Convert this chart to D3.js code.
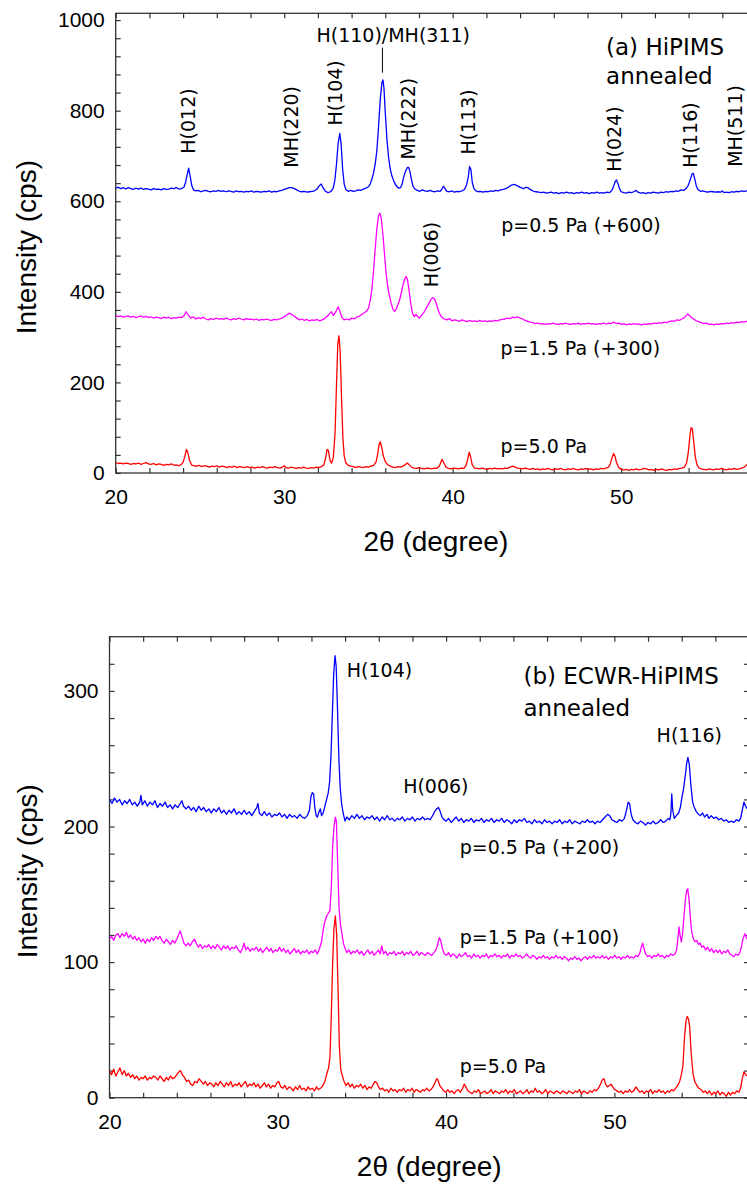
<!DOCTYPE html>
<html>
<head>
<meta charset="utf-8">
<script src="https://cdn.jsdelivr.net/npm/d3@7"></script>
<style>
body { margin: 0; background: #fff; }
svg { display: block; }
</style>
</head>
<body>
<svg id="chart" width="747" height="1185"></svg>
<script>
// (a) HiPIMS annealed, raw counts, offsets added when drawing
var a_p05 = [[20.0,29],[20.15,31],[20.3,28],[20.45,30],[20.6,27],[20.75,30],[20.9,28],[21.05,26],[21.2,29],[21.35,27],[21.5,29],[21.65,26],[21.8,28],[21.95,27],[22.1,25],[22.25,28],[22.4,26],[22.55,27],[22.7,25],[22.85,28],[23.0,26],[23.15,27],[23.3,29],[23.45,28],[23.6,30],[23.75,27],[23.9,28],[24.05,31],[24.15,42],[24.25,60],[24.33,73],[24.42,55],[24.52,34],[24.62,25],[24.75,23],[24.9,24],[25.05,21],[25.2,23],[25.35,24],[25.5,22],[25.65,21],[25.8,23],[25.95,22],[26.1,24],[26.25,22],[26.4,23],[26.55,21],[26.7,23],[26.85,22],[27.0,20],[27.15,23],[27.3,21],[27.45,22],[27.6,20],[27.75,22],[27.9,21],[28.05,23],[28.2,20],[28.35,22],[28.5,21],[28.65,20],[28.8,22],[28.95,21],[29.1,23],[29.25,20],[29.4,22],[29.55,21],[29.7,23],[29.85,24],[30.0,26],[30.15,28],[30.3,30],[30.45,30],[30.6,28],[30.75,25],[30.9,22],[31.05,21],[31.2,22],[31.35,20],[31.5,21],[31.65,22],[31.8,23],[31.95,27],[32.1,35],[32.2,38],[32.3,30],[32.45,22],[32.6,19],[32.75,21],[32.9,28],[33.0,45],[33.1,80],[33.2,128],[33.3,150],[33.38,125],[33.47,70],[33.56,38],[33.66,26],[33.8,22],[33.95,24],[34.1,22],[34.25,23],[34.4,25],[34.55,24],[34.7,27],[34.85,29],[35.0,32],[35.1,38],[35.2,48],[35.3,62],[35.4,82],[35.5,112],[35.6,165],[35.7,225],[35.8,262],[35.86,268],[35.92,250],[36.0,195],[36.1,135],[36.2,95],[36.3,70],[36.4,55],[36.5,45],[36.6,37],[36.7,32],[36.8,29],[36.9,30],[37.0,38],[37.1,55],[37.2,66],[37.3,74],[37.38,75],[37.46,66],[37.55,48],[37.65,33],[37.75,27],[37.9,24],[38.05,22],[38.2,25],[38.35,23],[38.5,22],[38.65,24],[38.8,22],[38.95,21],[39.1,23],[39.25,22],[39.35,26],[39.45,33],[39.55,28],[39.65,22],[39.8,21],[39.95,23],[40.1,20],[40.25,22],[40.4,21],[40.55,23],[40.7,26],[40.82,36],[40.92,52],[41.0,77],[41.08,70],[41.16,42],[41.26,28],[41.38,23],[41.5,21],[41.65,22],[41.8,20],[41.95,22],[42.1,21],[42.25,23],[42.4,22],[42.55,24],[42.7,23],[42.85,25],[43.0,26],[43.15,28],[43.3,31],[43.45,35],[43.6,37],[43.75,36],[43.9,33],[44.05,30],[44.2,28],[44.35,31],[44.5,29],[44.65,25],[44.8,22],[44.95,21],[45.1,20],[45.25,19],[45.4,20],[45.55,18],[45.7,19],[45.85,20],[46.0,18],[46.15,19],[46.3,17],[46.45,19],[46.6,18],[46.75,20],[46.9,18],[47.05,19],[47.2,17],[47.35,19],[47.5,18],[47.65,20],[47.8,18],[47.95,19],[48.1,17],[48.25,19],[48.4,18],[48.55,20],[48.7,18],[48.85,19],[49.0,18],[49.15,20],[49.3,19],[49.45,24],[49.55,33],[49.65,44],[49.72,47],[49.8,40],[49.9,28],[50.0,21],[50.15,19],[50.3,18],[50.45,20],[50.6,19],[50.75,21],[50.88,24],[51.0,20],[51.15,18],[51.3,19],[51.45,17],[51.6,19],[51.75,18],[51.9,20],[52.05,19],[52.2,18],[52.35,20],[52.5,19],[52.65,21],[52.8,20],[52.95,22],[53.1,21],[53.25,23],[53.4,22],[53.55,25],[53.7,24],[53.85,28],[53.98,35],[54.1,48],[54.2,60],[54.27,62],[54.35,52],[54.45,35],[54.55,26],[54.7,22],[54.85,23],[55.0,21],[55.15,20],[55.3,22],[55.45,21],[55.6,20],[55.75,21],[55.9,20],[56.0,23],[56.1,19],[56.25,20],[56.4,19],[56.55,21],[56.7,20],[56.85,22],[57.0,21],[57.15,23],[57.3,22],[57.45,23],[57.6,22],[57.75,24],[57.9,23],[58.0,24]]

var a_p15 = [[20.0,48],[20.15,45],[20.3,47],[20.45,44],[20.6,46],[20.75,47],[20.9,44],[21.05,46],[21.2,43],[21.35,45],[21.5,47],[21.65,44],[21.8,46],[21.95,43],[22.1,45],[22.25,42],[22.4,44],[22.55,43],[22.7,41],[22.85,44],[23.0,42],[23.15,44],[23.3,41],[23.45,43],[23.6,42],[23.75,44],[23.9,43],[24.05,47],[24.18,56],[24.3,49],[24.45,42],[24.6,45],[24.75,40],[24.9,43],[25.05,41],[25.2,44],[25.35,40],[25.5,38],[25.65,41],[25.8,39],[25.95,42],[26.1,40],[26.25,41],[26.4,39],[26.55,42],[26.7,40],[26.85,38],[27.0,41],[27.15,39],[27.3,42],[27.45,40],[27.6,38],[27.75,41],[27.9,39],[28.05,40],[28.2,38],[28.35,40],[28.5,37],[28.65,39],[28.8,38],[28.95,40],[29.1,38],[29.25,37],[29.4,39],[29.55,38],[29.7,40],[29.85,42],[30.0,45],[30.15,49],[30.3,53],[30.45,50],[30.6,46],[30.75,42],[30.9,38],[31.05,40],[31.2,37],[31.35,39],[31.5,36],[31.65,38],[31.8,37],[31.95,39],[32.1,36],[32.25,38],[32.4,41],[32.55,46],[32.7,52],[32.8,56],[32.92,48],[33.05,55],[33.2,67],[33.3,58],[33.42,44],[33.55,38],[33.7,40],[33.85,38],[34.0,42],[34.15,40],[34.3,44],[34.45,46],[34.6,50],[34.75,54],[34.9,58],[35.0,64],[35.1,80],[35.2,105],[35.3,145],[35.4,195],[35.5,240],[35.6,268],[35.68,274],[35.76,262],[35.85,230],[35.95,185],[36.05,140],[36.15,110],[36.25,90],[36.35,75],[36.45,62],[36.55,57],[36.65,62],[36.75,72],[36.85,82],[36.95,98],[37.05,115],[37.15,128],[37.24,134],[37.32,126],[37.42,100],[37.52,72],[37.62,52],[37.72,45],[37.82,50],[37.92,45],[38.02,42],[38.15,48],[38.3,55],[38.45,65],[38.6,75],[38.72,84],[38.82,87],[38.92,84],[39.02,75],[39.12,62],[39.22,52],[39.35,44],[39.5,40],[39.65,38],[39.8,41],[39.95,36],[40.1,38],[40.25,37],[40.4,35],[40.55,38],[40.7,36],[40.85,34],[41.0,37],[41.15,35],[41.3,36],[41.45,34],[41.6,37],[41.75,35],[41.9,36],[42.05,34],[42.2,36],[42.35,35],[42.5,37],[42.65,36],[42.8,38],[42.95,39],[43.1,40],[43.25,42],[43.4,41],[43.55,44],[43.7,43],[43.85,45],[44.0,42],[44.15,40],[44.3,37],[44.45,35],[44.6,33],[44.75,32],[44.9,30],[45.05,31],[45.2,29],[45.35,30],[45.5,28],[45.65,30],[45.8,29],[45.95,31],[46.1,29],[46.25,28],[46.4,30],[46.55,29],[46.7,31],[46.85,29],[47.0,28],[47.15,30],[47.3,29],[47.45,31],[47.6,28],[47.75,30],[47.9,29],[48.05,31],[48.2,29],[48.35,30],[48.5,28],[48.65,30],[48.8,29],[48.95,31],[49.1,29],[49.25,31],[49.4,30],[49.55,33],[49.7,30],[49.85,31],[50.0,28],[50.15,30],[50.3,27],[50.45,29],[50.6,28],[50.75,30],[50.9,28],[51.05,29],[51.2,27],[51.35,29],[51.5,28],[51.65,30],[51.8,29],[51.95,31],[52.1,30],[52.25,32],[52.4,31],[52.55,33],[52.7,32],[52.85,34],[53.0,36],[53.15,35],[53.3,38],[53.45,37],[53.6,40],[53.75,43],[53.85,47],[53.95,51],[54.05,48],[54.15,44],[54.3,40],[54.45,36],[54.6,34],[54.75,32],[54.9,30],[55.05,31],[55.2,28],[55.35,29],[55.5,27],[55.65,29],[55.8,28],[55.95,30],[56.1,29],[56.25,31],[56.4,30],[56.55,32],[56.7,31],[56.85,33],[57.0,32],[57.15,34],[57.3,33],[57.45,35],[57.6,37],[57.75,35],[57.9,36],[58.0,35]]

var a_p50 = [[20.0,23],[20.15,21],[20.3,22],[20.45,20],[20.6,22],[20.75,21],[20.9,19],[21.05,21],[21.2,20],[21.35,22],[21.5,19],[21.65,21],[21.8,23],[21.95,20],[22.1,19],[22.25,21],[22.4,18],[22.55,20],[22.7,19],[22.85,17],[23.0,19],[23.15,18],[23.3,20],[23.45,17],[23.6,18],[23.75,16],[23.9,19],[24.0,24],[24.1,36],[24.2,52],[24.28,45],[24.38,28],[24.5,18],[24.65,16],[24.8,15],[24.95,17],[25.1,14],[25.25,16],[25.4,15],[25.55,13],[25.7,15],[25.85,14],[26.0,16],[26.15,13],[26.3,15],[26.45,14],[26.6,12],[26.75,14],[26.9,13],[27.05,15],[27.2,12],[27.35,14],[27.5,13],[27.65,12],[27.8,14],[27.95,12],[28.1,13],[28.25,11],[28.4,13],[28.55,12],[28.7,14],[28.85,12],[29.0,11],[29.15,13],[29.3,12],[29.45,14],[29.6,12],[29.75,11],[29.9,13],[30.0,16],[30.1,12],[30.25,11],[30.4,13],[30.55,12],[30.7,10],[30.85,12],[31.0,11],[31.15,13],[31.3,11],[31.45,10],[31.6,12],[31.75,11],[31.9,13],[32.05,12],[32.2,14],[32.35,18],[32.45,32],[32.55,52],[32.62,50],[32.72,28],[32.82,22],[32.92,35],[33.02,90],[33.1,190],[33.18,285],[33.25,303],[33.32,270],[33.4,170],[33.48,80],[33.56,38],[33.66,22],[33.8,17],[33.95,15],[34.1,14],[34.25,12],[34.4,14],[34.55,13],[34.7,12],[34.85,14],[35.0,13],[35.15,15],[35.3,17],[35.45,24],[35.55,42],[35.63,62],[35.7,69],[35.78,58],[35.88,38],[36.0,25],[36.15,18],[36.3,15],[36.45,13],[36.6,12],[36.75,14],[36.9,13],[37.05,15],[37.2,19],[37.3,22],[37.42,18],[37.55,13],[37.7,11],[37.85,10],[38.0,12],[38.15,10],[38.3,9],[38.45,11],[38.6,10],[38.75,9],[38.9,11],[39.05,10],[39.2,15],[39.3,24],[39.38,30],[39.48,22],[39.6,13],[39.75,10],[39.9,9],[40.05,11],[40.2,10],[40.35,9],[40.5,11],[40.65,10],[40.8,17],[40.9,32],[40.98,46],[41.06,36],[41.16,18],[41.3,11],[41.45,10],[41.6,9],[41.75,11],[41.9,9],[42.05,8],[42.2,10],[42.35,9],[42.5,11],[42.65,9],[42.8,10],[42.95,9],[43.1,11],[43.25,10],[43.4,13],[43.55,15],[43.7,13],[43.85,11],[44.0,10],[44.15,9],[44.3,11],[44.45,9],[44.6,8],[44.75,10],[44.9,8],[45.05,9],[45.2,7],[45.35,9],[45.5,8],[45.65,10],[45.8,8],[45.95,7],[46.1,9],[46.25,8],[46.4,10],[46.55,8],[46.7,7],[46.85,9],[47.0,8],[47.15,10],[47.3,8],[47.45,7],[47.6,9],[47.75,8],[47.9,10],[48.05,8],[48.2,9],[48.35,7],[48.5,9],[48.65,8],[48.8,10],[48.95,9],[49.1,11],[49.25,13],[49.35,20],[49.45,33],[49.55,43],[49.63,37],[49.73,22],[49.85,12],[50.0,8],[50.15,7],[50.3,8],[50.45,6],[50.6,8],[50.75,7],[50.9,9],[51.05,7],[51.2,8],[51.35,10],[51.5,9],[51.65,7],[51.8,8],[51.95,6],[52.1,8],[52.25,7],[52.4,9],[52.55,7],[52.7,6],[52.85,8],[53.0,7],[53.15,9],[53.3,8],[53.45,10],[53.6,11],[53.75,13],[53.88,22],[53.98,45],[54.07,80],[54.15,100],[54.22,98],[54.3,70],[54.4,35],[54.5,18],[54.62,11],[54.75,9],[54.9,8],[55.05,7],[55.2,9],[55.35,8],[55.5,7],[55.65,9],[55.8,8],[55.95,10],[56.1,8],[56.25,7],[56.4,9],[56.55,8],[56.7,10],[56.85,8],[57.0,9],[57.15,11],[57.3,13],[57.45,18],[57.6,20],[57.75,17],[57.9,14],[58.0,13]]

// (b) ECWR-HiPIMS annealed
var b_p05 = [[20.0,20],[20.15,17],[20.3,21],[20.45,18],[20.6,20],[20.75,16],[20.9,19],[21.05,17],[21.2,20],[21.35,16],[21.5,18],[21.65,15],[21.8,18],[21.87,23],[21.95,16],[22.1,19],[22.25,15],[22.4,18],[22.55,16],[22.7,19],[22.85,14],[23.0,17],[23.15,15],[23.3,18],[23.45,14],[23.6,16],[23.75,13],[23.9,16],[24.05,14],[24.2,17],[24.3,19],[24.4,15],[24.55,13],[24.7,15],[24.85,12],[25.0,14],[25.15,11],[25.3,15],[25.45,12],[25.6,14],[25.75,11],[25.9,13],[26.05,10],[26.2,13],[26.35,11],[26.5,14],[26.65,10],[26.8,12],[26.95,9],[27.1,12],[27.25,10],[27.4,13],[27.55,9],[27.7,11],[27.85,9],[28.0,12],[28.15,9],[28.3,11],[28.45,8],[28.6,11],[28.75,14],[28.82,17],[28.9,10],[29.05,8],[29.2,11],[29.35,8],[29.5,10],[29.65,7],[29.8,9],[29.95,8],[30.1,10],[30.25,7],[30.4,9],[30.55,6],[30.7,9],[30.85,7],[31.0,8],[31.15,6],[31.3,9],[31.45,7],[31.6,6],[31.75,8],[31.88,12],[31.97,22],[32.05,25],[32.13,24],[32.2,14],[32.28,8],[32.36,7],[32.45,11],[32.53,13],[32.6,8],[32.7,10],[32.8,15],[32.9,20],[33.0,25],[33.08,33],[33.16,52],[33.24,82],[33.32,112],[33.4,126],[33.47,118],[33.55,86],[33.63,50],[33.71,28],[33.8,16],[33.9,9],[34.0,4],[34.1,7],[34.25,5],[34.4,8],[34.55,6],[34.7,9],[34.85,6],[35.0,8],[35.15,5],[35.3,7],[35.45,6],[35.6,8],[35.75,5],[35.9,7],[36.05,4],[36.2,7],[36.35,5],[36.5,8],[36.65,5],[36.8,6],[36.95,4],[37.1,6],[37.25,5],[37.4,7],[37.55,4],[37.7,6],[37.85,5],[38.0,7],[38.15,4],[38.3,6],[38.45,5],[38.6,7],[38.75,5],[38.9,6],[39.05,5],[39.2,8],[39.32,11],[39.44,13],[39.55,14],[39.65,11],[39.76,7],[39.88,5],[40.0,4],[40.15,6],[40.3,3],[40.45,5],[40.6,7],[40.75,4],[40.9,6],[41.05,3],[41.2,5],[41.35,4],[41.5,6],[41.65,3],[41.8,5],[41.95,4],[42.1,6],[42.25,3],[42.4,5],[42.55,4],[42.7,6],[42.85,3],[43.0,5],[43.15,4],[43.3,6],[43.45,3],[43.6,5],[43.75,4],[43.9,2],[44.05,5],[44.2,3],[44.35,5],[44.5,4],[44.65,6],[44.8,3],[44.95,4],[45.1,2],[45.25,5],[45.4,3],[45.55,4],[45.7,2],[45.85,5],[46.0,3],[46.15,4],[46.3,2],[46.45,4],[46.6,3],[46.75,5],[46.9,2],[47.05,4],[47.2,3],[47.35,5],[47.5,2],[47.65,4],[47.8,3],[47.95,2],[48.1,4],[48.25,3],[48.4,5],[48.55,3],[48.7,4],[48.85,2],[49.0,4],[49.15,3],[49.3,5],[49.45,7],[49.6,9],[49.72,8],[49.85,5],[50.0,4],[50.15,3],[50.3,5],[50.45,4],[50.6,6],[50.72,12],[50.82,18],[50.9,17],[51.0,9],[51.1,5],[51.25,3],[51.4,2],[51.55,4],[51.7,3],[51.85,1],[52.0,3],[52.15,2],[52.3,4],[52.45,2],[52.6,3],[52.75,5],[52.9,3],[53.05,4],[53.2,6],[53.3,5],[53.36,10],[53.41,24],[53.47,12],[53.56,6],[53.68,8],[53.82,10],[53.92,14],[54.02,22],[54.1,27],[54.2,36],[54.3,47],[54.37,51],[54.45,46],[54.55,30],[54.65,18],[54.75,14],[54.87,11],[55.0,9],[55.12,8],[55.24,10],[55.36,7],[55.5,9],[55.62,6],[55.76,8],[55.9,6],[56.05,7],[56.2,5],[56.35,6],[56.5,4],[56.65,5],[56.8,3],[56.95,4],[57.1,3],[57.25,5],[57.4,4],[57.5,6],[57.6,12],[57.7,18],[57.8,15],[57.9,13],[58.0,14]]

var b_p15 = [[20.0,17],[20.12,19],[20.25,16],[20.38,20],[20.5,21],[20.62,18],[20.75,21],[20.88,19],[21.0,22],[21.12,18],[21.25,20],[21.38,17],[21.5,19],[21.62,16],[21.75,18],[21.88,15],[22.0,17],[22.12,14],[22.25,17],[22.38,15],[22.5,18],[22.62,16],[22.75,19],[22.88,17],[23.0,19],[23.12,16],[23.25,14],[23.38,17],[23.5,15],[23.62,13],[23.75,16],[23.88,14],[24.0,17],[24.1,20],[24.2,23],[24.3,19],[24.42,14],[24.55,12],[24.68,14],[24.8,12],[24.92,15],[25.05,17],[25.15,14],[25.28,11],[25.4,13],[25.52,10],[25.65,12],[25.78,11],[25.9,13],[26.02,10],[26.15,12],[26.28,10],[26.4,13],[26.52,11],[26.65,9],[26.78,12],[26.9,10],[27.02,12],[27.15,9],[27.28,11],[27.4,10],[27.52,12],[27.65,9],[27.78,7],[27.9,10],[28.0,14],[28.1,9],[28.22,11],[28.35,8],[28.48,10],[28.6,9],[28.72,11],[28.85,8],[28.98,10],[29.1,7],[29.22,9],[29.35,11],[29.48,8],[29.6,10],[29.72,7],[29.85,9],[29.98,8],[30.1,11],[30.22,8],[30.35,10],[30.48,7],[30.6,9],[30.72,6],[30.85,8],[30.98,10],[31.1,7],[31.22,9],[31.35,6],[31.48,8],[31.6,7],[31.72,9],[31.85,6],[31.98,8],[32.1,7],[32.22,9],[32.35,6],[32.48,10],[32.6,15],[32.7,24],[32.8,30],[32.9,34],[33.0,36],[33.1,38],[33.18,55],[33.26,85],[33.34,100],[33.42,107],[33.48,104],[33.56,72],[33.64,40],[33.72,28],[33.8,22],[33.9,14],[34.0,10],[34.1,7],[34.22,9],[34.35,6],[34.48,8],[34.6,7],[34.72,9],[34.85,6],[34.98,8],[35.1,5],[35.22,7],[35.35,9],[35.48,6],[35.6,8],[35.72,5],[35.85,7],[35.98,9],[36.08,6],[36.18,12],[36.28,6],[36.4,8],[36.52,5],[36.65,7],[36.78,6],[36.9,8],[37.02,5],[37.15,7],[37.28,6],[37.4,8],[37.52,5],[37.65,7],[37.78,6],[37.9,8],[38.02,5],[38.15,6],[38.28,8],[38.4,5],[38.52,7],[38.65,6],[38.78,5],[38.9,7],[39.02,6],[39.15,5],[39.28,7],[39.4,9],[39.5,13],[39.6,18],[39.68,16],[39.78,10],[39.9,6],[40.02,5],[40.15,7],[40.28,4],[40.4,6],[40.52,5],[40.65,3],[40.78,6],[40.9,4],[41.02,5],[41.15,7],[41.28,4],[41.4,5],[41.52,3],[41.65,6],[41.78,4],[41.9,5],[42.02,3],[42.15,5],[42.28,4],[42.4,6],[42.52,3],[42.65,5],[42.78,4],[42.9,6],[43.02,4],[43.15,5],[43.28,3],[43.4,5],[43.52,4],[43.65,6],[43.78,3],[43.9,5],[44.02,4],[44.15,6],[44.28,4],[44.4,5],[44.52,3],[44.65,4],[44.78,6],[44.9,4],[45.02,3],[45.15,5],[45.28,4],[45.4,2],[45.52,4],[45.65,3],[45.78,5],[45.9,3],[46.02,4],[46.15,2],[46.28,4],[46.4,3],[46.52,5],[46.65,3],[46.78,4],[46.9,2],[47.02,4],[47.15,3],[47.28,1],[47.4,3],[47.52,2],[47.65,4],[47.78,2],[47.9,3],[48.02,1],[48.15,3],[48.28,4],[48.4,2],[48.52,4],[48.65,3],[48.78,5],[48.9,3],[49.02,4],[49.15,3],[49.28,5],[49.4,3],[49.52,4],[49.65,2],[49.78,4],[49.9,3],[50.02,5],[50.15,3],[50.28,4],[50.4,2],[50.52,4],[50.65,3],[50.78,5],[50.9,3],[51.02,4],[51.15,3],[51.28,5],[51.4,4],[51.52,7],[51.6,11],[51.68,14],[51.76,10],[51.86,6],[51.98,4],[52.1,5],[52.22,3],[52.35,5],[52.48,4],[52.6,6],[52.72,4],[52.85,5],[52.98,3],[53.1,5],[53.22,4],[53.35,6],[53.48,5],[53.6,6],[53.7,9],[53.78,18],[53.84,26],[53.9,20],[53.98,15],[54.06,22],[54.14,34],[54.22,46],[54.3,53],[54.36,54],[54.44,46],[54.52,32],[54.6,22],[54.7,17],[54.8,15],[54.9,16],[55.0,13],[55.1,14],[55.2,11],[55.3,12],[55.42,9],[55.54,11],[55.66,8],[55.78,10],[55.9,7],[56.02,9],[56.14,7],[56.26,9],[56.38,6],[56.5,8],[56.62,7],[56.74,9],[56.86,6],[56.98,5],[57.1,4],[57.22,6],[57.34,5],[57.46,7],[57.56,12],[57.66,18],[57.76,21],[57.88,17],[58.0,19]]

var b_p50 = [[20.0,20],[20.12,17],[20.25,21],[20.38,16],[20.5,19],[20.62,22],[20.75,17],[20.88,20],[21.0,16],[21.12,18],[21.25,15],[21.38,17],[21.5,14],[21.62,16],[21.75,13],[21.88,15],[22.0,14],[22.12,16],[22.25,13],[22.38,15],[22.5,14],[22.62,16],[22.75,15],[22.88,13],[23.0,16],[23.12,14],[23.25,12],[23.38,15],[23.5,13],[23.62,16],[23.75,14],[23.88,15],[24.0,17],[24.12,19],[24.22,20],[24.32,17],[24.45,15],[24.58,12],[24.7,13],[24.82,10],[24.95,9],[25.08,12],[25.2,11],[25.32,14],[25.45,12],[25.58,10],[25.7,12],[25.82,9],[25.95,11],[26.08,10],[26.2,8],[26.32,11],[26.45,9],[26.58,12],[26.7,10],[26.82,8],[26.95,11],[27.08,9],[27.2,12],[27.32,8],[27.45,10],[27.58,9],[27.7,11],[27.82,8],[27.95,10],[28.08,12],[28.2,8],[28.32,10],[28.45,9],[28.58,11],[28.7,8],[28.82,10],[28.95,7],[29.08,9],[29.2,11],[29.32,8],[29.45,10],[29.58,7],[29.7,9],[29.82,8],[29.95,11],[30.05,12],[30.18,8],[30.3,7],[30.42,9],[30.55,6],[30.68,8],[30.8,7],[30.92,5],[31.05,8],[31.18,6],[31.3,9],[31.42,6],[31.55,7],[31.68,5],[31.8,8],[31.92,6],[32.05,7],[32.18,5],[32.3,8],[32.42,6],[32.55,7],[32.68,9],[32.8,12],[32.92,18],[33.02,22],[33.1,30],[33.18,60],[33.26,100],[33.34,125],[33.42,134],[33.5,120],[33.58,80],[33.66,38],[33.74,21],[33.84,16],[33.94,12],[34.05,9],[34.18,11],[34.3,8],[34.42,10],[34.55,7],[34.68,9],[34.8,8],[34.92,10],[35.05,7],[35.18,9],[35.3,6],[35.42,8],[35.55,7],[35.68,10],[35.78,12],[35.88,11],[35.98,8],[36.1,6],[36.22,7],[36.35,5],[36.48,6],[36.6,4],[36.72,7],[36.85,5],[36.98,6],[37.1,4],[37.22,6],[37.35,5],[37.48,7],[37.6,4],[37.72,6],[37.85,5],[37.98,7],[38.1,4],[38.22,6],[38.35,5],[38.48,4],[38.6,6],[38.72,5],[38.85,7],[38.98,5],[39.1,6],[39.22,8],[39.34,11],[39.44,14],[39.52,13],[39.62,9],[39.74,7],[39.86,5],[39.98,4],[40.1,6],[40.22,4],[40.35,5],[40.48,3],[40.6,5],[40.72,6],[40.85,4],[40.98,7],[41.08,10],[41.18,8],[41.3,5],[41.42,4],[41.55,3],[41.68,5],[41.8,4],[41.92,6],[42.05,3],[42.18,4],[42.3,5],[42.42,3],[42.55,4],[42.68,6],[42.8,3],[42.92,5],[43.05,4],[43.18,3],[43.3,5],[43.42,4],[43.55,6],[43.68,3],[43.8,5],[43.92,4],[44.05,6],[44.18,3],[44.3,4],[44.42,5],[44.55,3],[44.68,4],[44.8,6],[44.92,3],[45.05,5],[45.18,4],[45.3,7],[45.42,4],[45.55,5],[45.68,3],[45.8,4],[45.92,6],[46.05,3],[46.18,5],[46.3,4],[46.42,3],[46.55,5],[46.68,4],[46.8,3],[46.92,5],[47.05,4],[47.18,3],[47.3,5],[47.42,4],[47.55,3],[47.68,5],[47.8,4],[47.92,6],[48.05,3],[48.18,5],[48.3,4],[48.42,3],[48.55,5],[48.68,4],[48.8,6],[48.92,5],[49.05,7],[49.18,10],[49.28,13],[49.38,14],[49.48,10],[49.58,8],[49.7,9],[49.8,10],[49.9,8],[50.02,6],[50.15,5],[50.28,4],[50.4,5],[50.52,3],[50.65,5],[50.78,4],[50.9,6],[51.02,4],[51.15,5],[51.28,8],[51.4,6],[51.52,4],[51.65,5],[51.78,3],[51.9,5],[52.02,4],[52.15,6],[52.28,3],[52.4,5],[52.52,4],[52.65,6],[52.78,4],[52.9,5],[53.02,3],[53.15,5],[53.28,4],[53.4,6],[53.52,5],[53.64,7],[53.76,9],[53.88,12],[53.98,17],[54.07,23],[54.17,45],[54.26,57],[54.33,60],[54.4,58],[54.47,53],[54.57,32],[54.67,18],[54.77,12],[54.9,9],[55.02,7],[55.15,6],[55.28,4],[55.4,5],[55.52,3],[55.65,5],[55.78,2],[55.9,4],[56.02,3],[56.15,5],[56.28,2],[56.4,4],[56.52,3],[56.65,1],[56.78,4],[56.9,2],[57.02,4],[57.15,3],[57.28,5],[57.4,4],[57.5,7],[57.6,14],[57.7,19],[57.8,17],[57.9,16],[58.0,18]]

var colors = ["#0000ff", "#ff00ff", "#ff0000"]
var a_offsets = [600, 300, 0]
var b_offsets = [200, 100, 0]

// text labels, placed in data units (2theta, cps)
var a_labels = [
    {t: "H(012)", x: 24.40, y: 705, rot: true},
    {t: "MH(220)", x: 30.54, y: 674, rot: true},
    {t: "H(104)", x: 33.12, y: 767, rot: true},
    {t: "MH(222)", x: 37.45, y: 692, rot: true},
    {t: "H(113)", x: 41.00, y: 703, rot: true},
    {t: "H(024)", x: 49.71, y: 665, rot: true},
    {t: "H(116)", x: 54.22, y: 674, rot: true},
    {t: "MH(511)", x: 56.89, y: 676, rot: true},
    {t: "H(006)", x: 38.81, y: 410, rot: true},
    {t: "H(110)/MH(311)", x: 36.47, y: 952, mid: true},
    {t: "(a) HiPIMS", x: 49.10, y: 924, big: true},
    {t: "annealed", x: 49.10, y: 860, big: true},
    {t: "p=0.5 Pa (+600)", x: 42.88, y: 532},
    {t: "p=1.5 Pa (+300)", x: 42.84, y: 261},
    {t: "p=5.0 Pa", x: 42.84, y: 44}
]
var a_marks = [[35.83, 939, 884]]

var b_labels = [
    {t: "H(104)", x: 34.10, y: 310},
    {t: "(b) ECWR-HiPIMS", x: 44.60, y: 305, big: true},
    {t: "annealed", x: 44.60, y: 281.5, big: true},
    {t: "H(116)", x: 52.51, y: 262},
    {t: "H(006)", x: 37.45, y: 225},
    {t: "p=0.5 Pa (+200)", x: 40.81, y: 180},
    {t: "p=1.5 Pa (+100)", x: 40.81, y: 113},
    {t: "p=5.0 Pa", x: 40.81, y: 18}
]

var svg = d3.select("#chart")

function drawPanel(cfg, series, offsets, labels, marks) {
    var x = d3.scaleLinear().domain([20, 58]).range([cfg.left, cfg.right])
    var y = d3.scaleLinear().domain([0, cfg.ymax]).range([cfg.bottom, cfg.top])
    var g = svg.append("g")

    g.append("clipPath").attr("id", cfg.id + "-clip")
        .append("rect")
        .attr("x", cfg.left).attr("y", cfg.top)
        .attr("width", cfg.right - cfg.left).attr("height", cfg.bottom - cfg.top)

    var xticks = d3.range(20, 58.01, 2)
    var yticks = d3.range(0, cfg.ymax, cfg.minor)

    var axisStyle = function(sel) {
        sel.select(".domain").remove()
        sel.selectAll(".tick line").attr("stroke", "#333").attr("stroke-width", 1.2)
        sel.selectAll(".tick text")
            .attr("fill", "#000")
            .style("font-family", "'Liberation Sans', Arial, sans-serif")
            .style("font-size", "21px")
    }

    g.append("g").attr("transform", "translate(0," + cfg.bottom + ")")
        .call(d3.axisBottom(x).tickValues(xticks).tickSize(-5).tickPadding(16)
            .tickFormat(function(d) { return d % 10 == 0 ? d : "" }))
        .call(axisStyle)
    g.append("g").attr("transform", "translate(0," + cfg.top + ")")
        .call(d3.axisTop(x).tickValues(xticks).tickSize(-5).tickFormat(""))
        .call(axisStyle)
    g.append("g").attr("transform", "translate(" + cfg.left + ",0)")
        .call(d3.axisLeft(y).tickValues(yticks).tickSize(-5).tickPadding(11)
            .tickFormat(function(d) { return d % cfg.major == 0 ? d : "" }))
        .call(axisStyle)
    g.append("g").attr("transform", "translate(" + cfg.right + ",0)")
        .call(d3.axisRight(y).tickValues(yticks).tickSize(-5).tickFormat(""))
        .call(axisStyle)

    g.append("rect")
        .attr("x", cfg.left).attr("y", cfg.top)
        .attr("width", cfg.right - cfg.left).attr("height", cfg.bottom - cfg.top)
        .attr("fill", "none").attr("stroke", "#333").attr("stroke-width", 1.3)

    var line = d3.line()
        .x(function(d) { return x(d[0]) })
        .y(function(d) { return y(d[1] + d.off) })

    series.forEach(function(s, i) {
        var pts = s.map(function(d) { var p = d.slice(); p.off = offsets[i]; return p })
        g.append("path")
            .attr("d", line(pts))
            .attr("clip-path", "url(#" + cfg.id + "-clip)")
            .attr("fill", "none")
            .attr("stroke", colors[i])
            .attr("stroke-width", 1.3)
            .attr("stroke-linejoin", "round")
    })

    labels.forEach(function(l) {
        var t = g.append("text")
            .text(l.t)
            .attr("fill", "#000")
            .style("font-family", "'DejaVu Sans', Verdana, sans-serif")
            .style("font-size", l.big ? "23px" : "19px")
        if (l.rot) {
            t.attr("transform", "translate(" + x(l.x) + "," + y(l.y) + ") rotate(-90)")
                .attr("dy", "0.27em")
        } else {
            t.attr("x", x(l.x)).attr("y", y(l.y))
                .attr("text-anchor", l.mid ? "middle" : "start")
        }
    })

    ;(marks || []).forEach(function(m) {
        g.append("line")
            .attr("x1", x(m[0])).attr("x2", x(m[0]))
            .attr("y1", y(m[1])).attr("y2", y(m[2]))
            .attr("stroke", "#000").attr("stroke-width", 1)
    })

    g.append("text")
        .text("Intensity (cps)")
        .attr("transform", "translate(" + cfg.ytitle + "," + ((cfg.top + cfg.bottom) / 2 + 4) + ") rotate(-90)")
        .attr("text-anchor", "middle")
        .style("font-family", "'Liberation Sans', Arial, sans-serif")
        .style("font-size", "28px")

    g.append("text")
        .text("2\u03b8 (degree)")
        .attr("x", (cfg.left + cfg.right) / 2)
        .attr("y", cfg.bottom + 78)
        .attr("text-anchor", "middle")
        .style("font-family", "'Liberation Sans', Arial, sans-serif")
        .style("font-size", "28px")
}

drawPanel({id: "a", left: 115.7, right: 756, top: 13.3, bottom: 473, ymax: 1015, major: 200, minor: 40, ytitle: 36},
    [a_p05, a_p15, a_p50], a_offsets, a_labels, a_marks)
drawPanel({id: "b", left: 109.5, right: 749, top: 636.7, bottom: 1097.7, ymax: 340, major: 100, minor: 20, ytitle: 37},
    [b_p05, b_p15, b_p50], b_offsets, b_labels)
</script>
</body>
</html>
